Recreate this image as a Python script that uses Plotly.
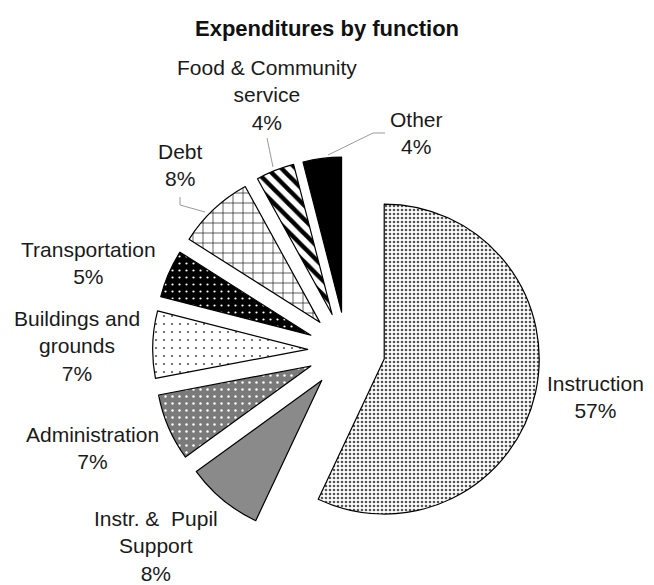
import plotly.graph_objects as go

# ---- data ----
labels = ["Instruction", "Instr. &  Pupil Support", "Administration",
          "Buildings and grounds", "Transportation", "Debt",
          "Food & Community service", "Other"]
values = [57, 8, 7, 7, 5, 8, 4, 4]
label_text = ["Instruction", "Instr. &  Pupil<br>Support", "Administration",
              "Buildings and<br>grounds", "Transportation", "Debt",
              "Food & Community<br>service", "Other"]

# ---- styles ----
shapes = [".", "", ".", ".", ".", "+", "\\", ""]
fgcolors = ["#555555", "#8a8a8a", "white", "#555555", "white", "black", "black", "black"]
bgcolors = ["white", "#8a8a8a", "#7a7a7a", "white", "black", "white", "white", "black"]
sizes = [4, 4, 7, 8, 7, 10, 10, 4]
solidities = [0.35, 0.3, 0.1, 0.06, 0.08, 0.12, 0.45, 0.3]

# the page body has an 8px margin; the figure is sized to fill the rest of the window
OFF = 8
W, H = 654 - OFF, 585 - OFF

# label block centres (page pixels)
label_px = [(595, 397), (156, 546), (92, 448), (77, 346), (88, 263),
            (180, 165), (267, 95), (416, 133)]
# leader lines (page pixels)
leaders = [
    [(180, 197), (180, 205), (205, 212)],
    [(267, 138), (273, 167)],
    [(385, 133), (373, 133), (328, 155)],
]


def px2paper(x, y):
    return (x - OFF) / W, 1 - (y - OFF) / H


total = sum(values)

fig = go.Figure(go.Pie(
    labels=labels,
    values=values,
    sort=False,
    direction="clockwise",
    rotation=0,
    pull=[0.25] * len(values),
    textinfo="none",
    marker=dict(
        colors=bgcolors,
        line=dict(color="black", width=1.2),
        pattern=dict(shape=shapes, fgcolor=fgcolors, bgcolor=bgcolors,
                     size=sizes, solidity=solidities, fillmode="replace"),
    ),
    domain=dict(x=[0.2239, 0.8238], y=[0.0705, 0.7420]),
    automargin=False,
    showlegend=False,
    hoverinfo="label+percent",
))

for txt, v, (px, py) in zip(label_text, values, label_px):
    pct = f"{round(100 * v / total)}%"
    ax_, ay_ = px2paper(px, py)
    fig.add_annotation(
        text=f"{txt}<br>{pct}", x=ax_, y=ay_, xref="paper", yref="paper",
        xanchor="center", yanchor="middle", showarrow=False, align="center",
        font=dict(family="Liberation Sans, Arial, sans-serif", size=21, color="#1a1a1a"),
    )

for pts in leaders:
    path = "M " + " L ".join("{},{}".format(*px2paper(x, y)) for x, y in pts)
    fig.add_shape(type="path", path=path, xref="paper", yref="paper",
                  line=dict(color="#9a9a9a", width=1))

fig.update_layout(
    width=W, height=H,
    margin=dict(l=0, r=0, t=0, b=0),
    paper_bgcolor="white",
    plot_bgcolor="white",
    title=dict(text="<b>Expenditures by function</b>", x=(327 - OFF) / W, xanchor="center",
               y=1 - (28 - OFF) / H, yanchor="middle", yref="container",
               font=dict(family="Liberation Sans, Arial, sans-serif", size=22, color="#111111")),
)

fig.write_html("out.html")
